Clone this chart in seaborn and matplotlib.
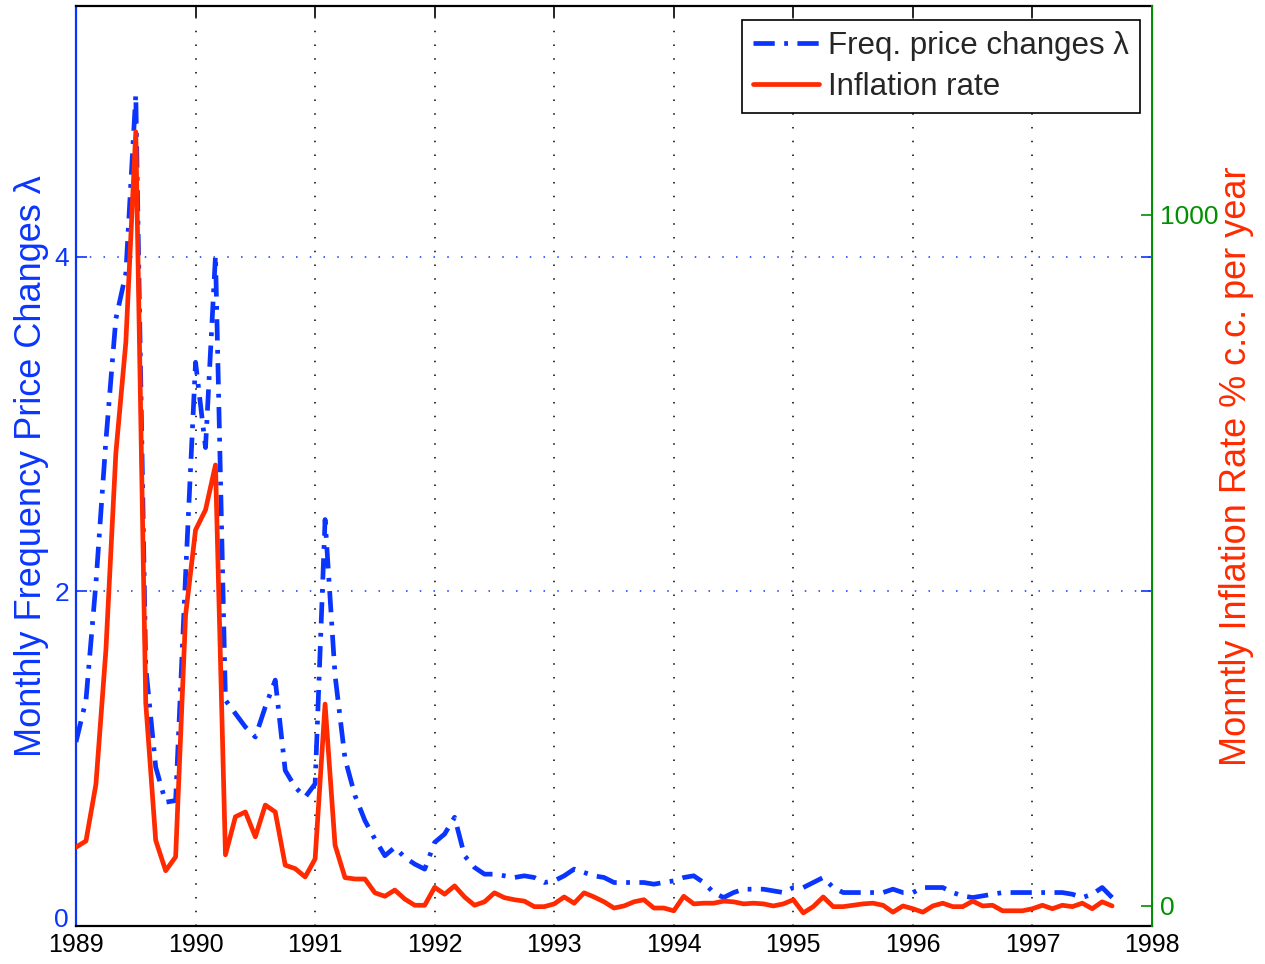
import numpy as np
import pandas as pd
import matplotlib
matplotlib.use("Agg")
import matplotlib.pyplot as plt
import matplotlib.transforms as mtransforms
import seaborn as sns

# monthly observations, Jan 1989 .. Sep 1997
start_year = 1989
n_months = 105

freq_changes = [
    1.10, 1.35, 2.05, 2.90, 3.63, 3.90, 4.97, 1.55, 0.95, 0.74, 0.75, 2.10,
    3.37, 2.86, 4.01, 1.35, 1.27, 1.19, 1.13, 1.31, 1.47, 0.93, 0.83, 0.77,
    0.85, 2.43, 1.50, 1.00, 0.78, 0.63, 0.52, 0.42, 0.47, 0.41, 0.37, 0.34,
    0.50, 0.55, 0.65, 0.42, 0.35, 0.31, 0.31, 0.30, 0.29, 0.30, 0.29, 0.26,
    0.27, 0.30, 0.34, 0.32, 0.30, 0.29, 0.26, 0.26, 0.26, 0.26, 0.25, 0.26,
    0.27, 0.29, 0.30, 0.26, 0.20, 0.17, 0.20, 0.22, 0.22, 0.22, 0.21, 0.20,
    0.23, 0.23, 0.26, 0.29, 0.23, 0.20, 0.20, 0.20, 0.20, 0.20, 0.22, 0.20,
    0.20, 0.23, 0.23, 0.23, 0.20, 0.18, 0.17, 0.18, 0.19, 0.20, 0.20, 0.20,
    0.20, 0.20, 0.20, 0.20, 0.19, 0.17, 0.19, 0.23, 0.17,
]

inflation = [
    85, 94, 176, 370, 655, 815, 1120, 294, 95, 51, 71, 421,
    544, 573, 638, 74, 129, 136, 100, 146, 136, 59, 54, 42,
    68, 292, 88, 41, 39, 39, 19, 14, 23, 10, 1, 1,
    27, 17, 29, 13, 1, 6, 19, 12, 9, 7, -1, -1,
    3, 13, 4, 19, 13, 6, -3, 0, 6, 9, -3, -3,
    -7, 14, 3, 4, 4, 7, 6, 3, 4, 3, 0, 3,
    9, -10, -1, 13, -1, -1, 1, 3, 4, 1, -9, 0,
    -4, -9, 0, 4, -1, -1, 7, 0, 1, -7, -7, -7,
    -4, 1, -4, 1, -1, 4, -4, 6, 0,
]

year_ticks = list(range(1989, 1999))
left_ticks = [0, 2, 4]
right_ticks = [0, 1000]

blue = '#0A35FF'
red = '#FF2A00'
green = '#009000'

df = pd.DataFrame({
    'date': start_year + np.arange(n_months) / 12.0,
    'freq': freq_changes,
    'infl': inflation,
})

sns.set_style('white')
plt.rcParams['font.family'] = ['Liberation Sans', 'DejaVu Sans']

fig = plt.figure(figsize=(12.65, 9.64), dpi=100)
ax = fig.add_axes([76 / 1265, 1 - 926 / 964, (1152 - 76) / 1265, (926 - 6) / 964])
ax2 = ax.twinx()

sns.lineplot(data=df, x='date', y='freq', ax=ax, color=blue, lw=3.4,
             linestyle=(0, (4.5, 2, 0.8, 2)), legend=False)
sns.lineplot(data=df, x='date', y='infl', ax=ax2, color=red, lw=3.4,
             legend=False)
ax.lines[0].set_label('Freq. price changes λ')
ax2.lines[0].set_label('Inflation rate')

ax.set_xlim(1989, 1998)
ax.set_ylim(0, 5.5)
ax2.set_ylim(-29, 1302)

ax.set_xticks(year_ticks)
ax.set_xticklabels([str(y) for y in year_ticks])
ax.set_yticks(left_ticks)
ax2.set_yticks(right_ticks)

# grid: black dotted verticals, blue dotted horizontals
ax.xaxis.grid(True, color='black', linestyle=(0, (1, 8)), lw=1.1)
ax.yaxis.grid(True, color=blue, linestyle=(0, (1, 8)), lw=1.1)
ax.set_axisbelow(True)

ax.tick_params(axis='x', direction='in', length=8, width=1.2, top=True,
               labelsize=18, colors='black', pad=5)
ax.tick_params(axis='y', direction='in', length=8, width=1.2, right=True,
               labelsize=19, colors=blue, pad=5)
ax2.tick_params(axis='y', direction='in', length=8, width=1.2,
                labelsize=19, colors=green, pad=6)

# lift the left "0" a little so it does not sit on top of "1989"
zero_lbl = ax.get_yticklabels()[0]
zero_lbl.set_transform(zero_lbl.get_transform() +
                       mtransforms.ScaledTranslation(0, 6 / 72, fig.dpi_scale_trans))

for side in ['top', 'bottom']:
    ax.spines[side].set_color('black')
    ax.spines[side].set_linewidth(1.6)
ax.spines['left'].set_color(blue)
ax.spines['left'].set_linewidth(1.6)
ax2.spines['right'].set_color(green)
ax2.spines['right'].set_linewidth(1.4)
ax2.spines['left'].set_visible(False)
ax2.spines['top'].set_visible(False)
ax2.spines['bottom'].set_visible(False)

ax.set_xlabel('')
ax.set_ylabel('Monthly Frequency Price Changes λ', color=blue, fontsize=26,
              labelpad=4)
ax2.set_ylabel('Monntly Inflation Rate % c.c. per year', color=red,
               fontsize=26, labelpad=0)

handles = [ax.lines[0], ax2.lines[0]]
leg = ax2.legend(handles=handles, labels=[h.get_label() for h in handles],
                 loc='upper right', bbox_to_anchor=(1140 / 1265, 1 - 20 / 964),
                 bbox_transform=fig.transFigure, borderaxespad=0,
                 fontsize=22.5, handlelength=2.1, handletextpad=0.3,
                 labelspacing=0.35, borderpad=0.35, fancybox=False,
                 framealpha=1, edgecolor='black')
leg.get_frame().set_linewidth(1.2)

fig.savefig('out.png', dpi=100)
